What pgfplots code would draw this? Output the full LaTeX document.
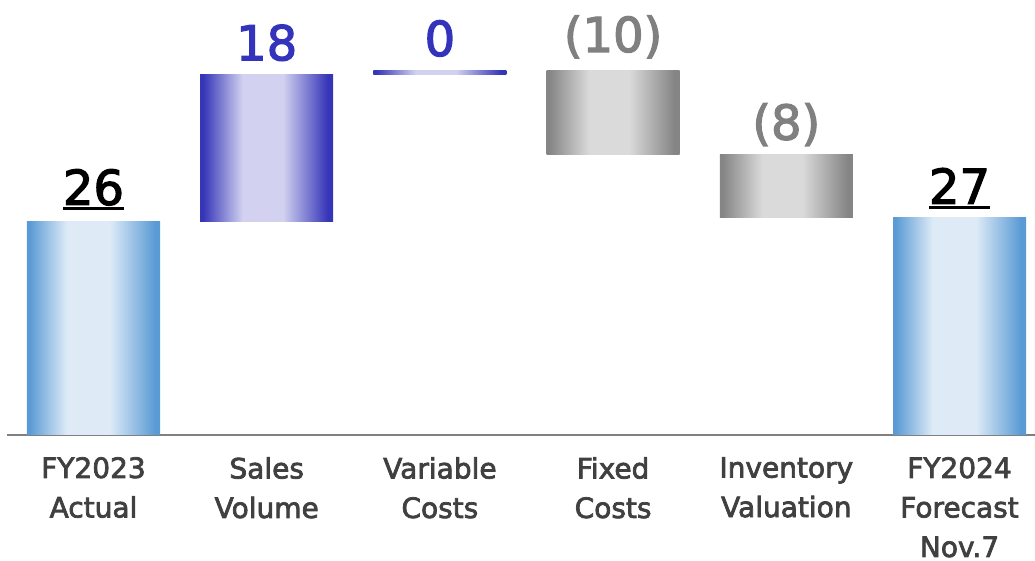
\documentclass[border=0pt]{standalone}
\usepackage{fontspec}
\setmainfont{DejaVu Sans}
\newfontfamily\medfont{DejaVu Sans}[FakeBold=2.6]
\usepackage{pgfplots}
\pgfplotsset{compat=1.18}
\definecolor{bluedark}{HTML}{5B9BD5}
\definecolor{bluelight}{HTML}{DEEBF7}
\definecolor{purdark}{HTML}{3535B8}
\definecolor{purlight}{HTML}{D2D2F0}
\definecolor{graydark}{HTML}{858585}
\definecolor{graylight}{HTML}{DADADA}
\definecolor{labgray}{HTML}{404040}
\definecolor{numblue}{HTML}{3333BB}
\definecolor{numgray}{HTML}{808080}
\pgfdeclarehorizontalshading{bluebar}{100bp}{color(0bp)=(bluedark); color(26bp)=(bluedark); color(40bp)=(bluelight); color(56bp)=(bluelight); color(73bp)=(bluedark); color(100bp)=(bluedark)}
\pgfdeclarehorizontalshading{purbar}{100bp}{color(0bp)=(purdark); color(26bp)=(purdark); color(41bp)=(purlight); color(56bp)=(purlight); color(73bp)=(purdark); color(100bp)=(purdark)}
\pgfdeclarehorizontalshading{graybar}{100bp}{color(0bp)=(graydark); color(26bp)=(graydark); color(41bp)=(graylight); color(56bp)=(graylight); color(73bp)=(graydark); color(100bp)=(graydark)}
\newcommand\ul[1]{\setbox0\hbox{#1}\leavevmode\rlap{\rule[-5pt]{\wd0}{2.6pt}}\box0}
\begin{document}
\begin{tikzpicture}
\useasboundingbox (-7pt,-126pt) rectangle (1028pt,435pt);
\begin{axis}[
  scale only axis, width=1028pt, height=435pt,
  xmin=-0.4994, xmax=5.436, ymin=0, ymax=53.05,
  ybar stacked, bar width=0.768,
  hide y axis, axis x line*=bottom,
  x axis line style={draw=numgray, line width=1.4pt},
  xtick={0,1,2,3,4,5}, major tick length=0pt,
  xticklabels={{FY2023\\Actual},{Sales\\Volume},{Variable\\Costs},{Fixed\\Costs},{Inventory\\Valuation},{FY2024\\Forecast\\Nov.7}},
  xticklabel style={align=center, font=\fontsize{28}{39.5}\selectfont\medfont, text=labgray, inner sep=0pt, anchor=north, yshift=-22pt},
  clip=false,
]
% invisible base of each floating bar
\addplot[draw=none, fill=none] coordinates {(0,0) (1,26) (2,44.0) (3,34.2) (4,26.5) (5,0)};
% one plot per bar
\addplot[draw=none, shade, shading=bluebar] coordinates {(0,26) (1,0) (2,0) (3,0) (4,0) (5,0)};
\addplot[draw=none, shade, shading=purbar] coordinates {(0,0) (1,18.0) (2,0) (3,0) (4,0) (5,0)};
\addplot[draw=none, shade, shading=purbar] coordinates {(0,0) (1,0) (2,0.4) (3,0) (4,0) (5,0)};
\addplot[draw=none, shade, shading=graybar] coordinates {(0,0) (1,0) (2,0) (3,10.2) (4,0) (5,0)};
\addplot[draw=none, shade, shading=graybar] coordinates {(0,0) (1,0) (2,0) (3,0) (4,7.7) (5,0)};
\addplot[draw=none, shade, shading=bluebar] coordinates {(0,0) (1,0) (2,0) (3,0) (4,0) (5,26.5)};
% value labels
\node[text=black, anchor=base, inner sep=0pt, font=\fontsize{48}{48}\selectfont\medfont] at (axis cs:0,26) [yshift=17pt] {\ul{26}};
\node[text=numblue, anchor=base, inner sep=0pt, font=\fontsize{48}{48}\selectfont\medfont] at (axis cs:1,44.0) [yshift=14pt] {18};
\node[text=numblue, anchor=base, inner sep=0pt, font=\fontsize{48}{48}\selectfont\medfont] at (axis cs:2,44.4) [yshift=15pt] {0};
\node[text=numgray, anchor=base, inner sep=0pt, font=\fontsize{48}{48}\selectfont\medfont] at (axis cs:3,44.4) [yshift=19pt] {(10)};
\node[text=numgray, anchor=base, inner sep=0pt, font=\fontsize{48}{48}\selectfont\medfont] at (axis cs:4,34.2) [yshift=15pt] {(8)};
\node[text=black, anchor=base, inner sep=0pt, font=\fontsize{48}{48}\selectfont\medfont] at (axis cs:5,26.5) [yshift=14pt] {\ul{27}};
\end{axis}
\end{tikzpicture}
\end{document}
